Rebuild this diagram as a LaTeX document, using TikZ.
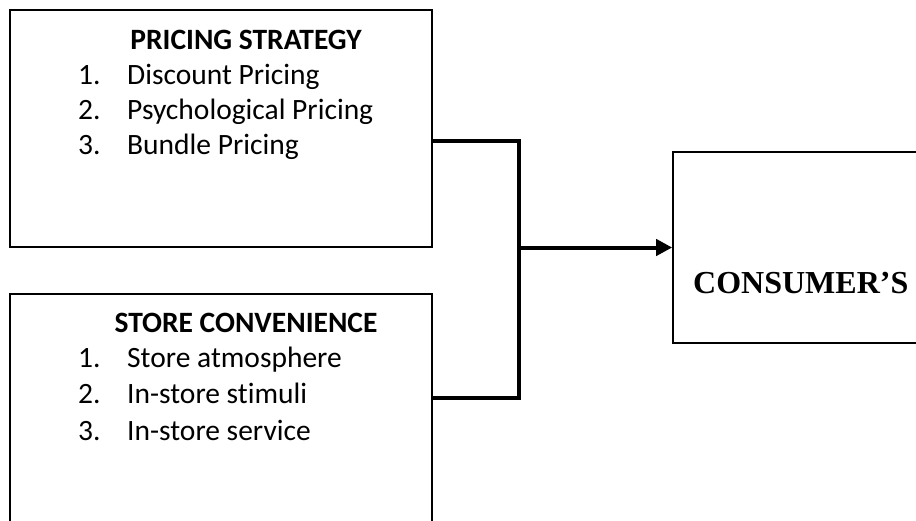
\documentclass[tikz,border=0pt]{standalone}
\usepackage{fontspec}
\setmainfont[Ligatures=NoCommon]{Carlito}
\newfontfamily\timesbf{Liberation Serif}
\usetikzlibrary{arrows.meta}
\begin{document}
\begin{tikzpicture}[x=1pt,y=-1pt,
  box/.style={draw=black,line width=1.6pt,rectangle,inner sep=0pt},
  conn/.style={draw=black,line width=4pt},
  ttl/.style={anchor=base,inner sep=0pt,font=\fontsize{29.5}{34}\selectfont\bfseries},
  itm/.style={anchor=base west,inner sep=0pt,font=\fontsize{29.5}{34}\selectfont},
  num/.style={anchor=base west,inner sep=0pt,font=\fontsize{29.5}{34}\selectfont}]
\useasboundingbox (0,0) rectangle (916,520);
\clip (0,0) rectangle (916,520);
% boxes
\node[box,minimum width=422pt,minimum height=237pt] (ps) at (221,128.5) {};
\node[box,minimum width=422pt,minimum height=280pt] (sc) at (221,434) {};
\node[box,minimum width=300pt,minimum height=191pt] (cons) at (823,247.5) {};
% top box texts
\node[ttl] (pst) at (246,49) {PRICING STRATEGY};
\node[num] (pn1) at (78,84) {1.};
\node[itm] (pi1) at (127,84) {Discount Pricing};
\node[num] (pn2) at (78,119) {2.};
\node[itm] (pi2) at (127,119) {Psychological Pricing};
\node[num] (pn3) at (78,154) {3.};
\node[itm] (pi3) at (127,154) {Bundle Pricing};
% bottom box texts
\node[ttl] (sct) at (246,332) {STORE CONVENIENCE};
\node[num] (sn1) at (78,367) {1.};
\node[itm] (si1) at (127,367) {Store atmosphere};
\node[num] (sn2) at (78,403) {2.};
\node[itm] (si2) at (127,403) {In-store stimuli};
\node[num] (sn3) at (78,440) {3.};
\node[itm] (si3) at (127,440) {In-store service};
% consumer text
\node[anchor=base west,inner sep=0pt,font=\timesbf\fontsize{32}{36}\selectfont\bfseries] (ct) at (693,293) {CONSUMER’S};
% connectors
\coordinate (jt) at (519,141);
\coordinate (jb) at (519,398);
\coordinate (jm) at (519,247.5);
\draw[conn] (ps.east |- jt) -- (jt) -- (jb) -- (sc.east |- jb);
\draw[conn,-{Triangle[length=16pt,width=16pt]}] (jm) -- (cons.west);
\end{tikzpicture}
\end{document}
